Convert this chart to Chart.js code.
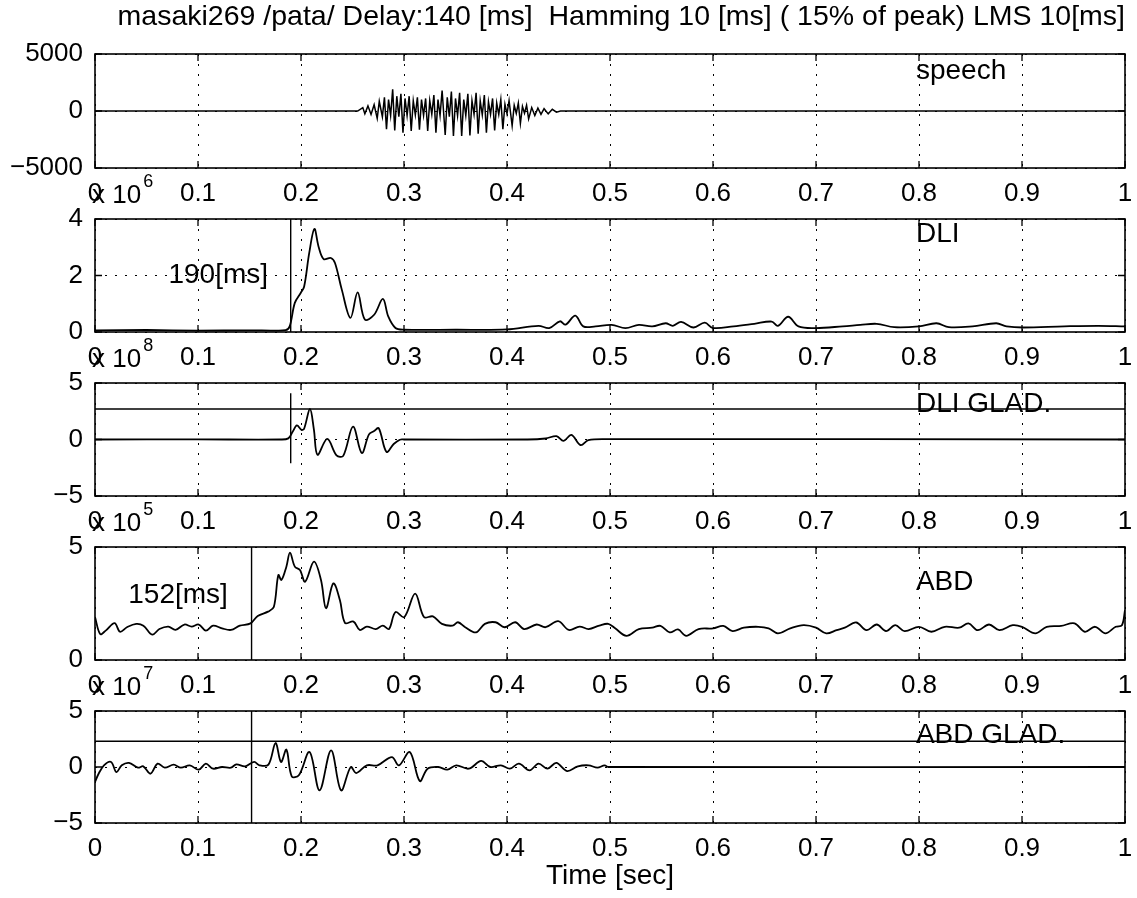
<!DOCTYPE html>
<html>
<head>
<meta charset="utf-8">
<title>masaki269 /pata/</title>
<script src="https://cdn.jsdelivr.net/npm/chart.js@4/dist/chart.umd.min.js"></script>
<style>
  html, body { margin: 0; padding: 0; background: #fff; }
  #page { position: relative; width: 1137px; height: 898px; }
  #page canvas { position: absolute; left: 0; top: 0; }
</style>
</head>
<body>
<div id="page">
  <canvas id="speechChart" width="1137" height="898"></canvas>
  <canvas id="dliChart" width="1137" height="898"></canvas>
  <canvas id="dliGladChart" width="1137" height="898"></canvas>
  <canvas id="abdChart" width="1137" height="898"></canvas>
  <canvas id="abdGladChart" width="1137" height="898"></canvas>
</div>
<script>
const titleText = "masaki269 /pata/ Delay:140 [ms]  Hamming 10 [ms] ( 15% of peak) LMS 10[ms]";

// speech waveform [time sec, amplitude]
const speechPoints = [
  [0, 0], [0.05, 10], [0.1, -10], [0.15, 10], [0.2, -10], [0.255, 0],
  [0.26, 300], [0.262, -250], [0.265, 450], [0.268, -300], [0.271, 550], [0.274, -650], [0.276, 850], [0.279, -500],
  [0.281, 1200], [0.283, -1600], [0.285, 1000], [0.287, -400],
  [0.289, 1900], [0.291, -1700], [0.293, 1300], [0.295, -500],
  [0.297, 1500], [0.299, -1900], [0.301, 1100], [0.303, -400],
  [0.305, 1300], [0.307, -1750], [0.309, 900], [0.311, -350],
  [0.313, 1200], [0.315, -1650], [0.317, 1000], [0.319, -400],
  [0.321, 1100], [0.323, -1750], [0.325, 900], [0.327, -300],
  [0.329, 1400], [0.331, -1900], [0.333, 1000], [0.335, -400],
  [0.337, 1800], [0.340, -2100], [0.342, 1200], [0.344, -500],
  [0.346, 1700], [0.348, -2200], [0.350, 1100], [0.352, -400],
  [0.354, 1600], [0.356, -2200], [0.358, 1000], [0.360, -400],
  [0.362, 1500], [0.364, -2150], [0.366, 900], [0.368, -300],
  [0.370, 1600], [0.372, -2000], [0.374, 900], [0.376, -350],
  [0.378, 1400], [0.380, -1900], [0.382, 800], [0.384, -300],
  [0.386, 1100], [0.388, -1700], [0.390, 700], [0.392, -300],
  [0.394, 1000], [0.396, -1600], [0.398, 600], [0.400, -250],
  [0.402, 900], [0.405, -1300], [0.407, 500], [0.409, -200],
  [0.411, 700], [0.413, -1100], [0.415, 400], [0.417, -200],
  [0.419, 500], [0.421, -700], [0.424, 300], [0.427, -400],
  [0.430, 250], [0.433, -300], [0.436, 200], [0.440, -250],
  [0.444, 150], [0.448, -100], [0.452, 0], [1.0, 0]
];

// DLI (x 10^6)
const dliPoints = [
  [0, 0.06], [0.05, 0.07], [0.1, 0.05], [0.15, 0.06], [0.185, 0.07], [0.189, 0.2],
  [0.194, 1.03], [0.1997, 1.38], [0.203, 1.6], [0.208, 2.8], [0.213, 3.65], [0.217, 3.03],
  [0.222, 2.58], [0.229, 2.62], [0.233, 2.44], [0.2396, 1.5], [0.248, 0.5], [0.255, 1.4],
  [0.262, 0.44], [0.271, 0.61], [0.2795, 1.17], [0.2847, 0.55], [0.2917, 0.14], [0.2997, 0.08],
  [0.35, 0.08], [0.40, 0.09], [0.4306, 0.22], [0.441, 0.14], [0.4514, 0.38], [0.4569, 0.26],
  [0.4663, 0.58], [0.474, 0.2], [0.486, 0.2], [0.5016, 0.25], [0.515, 0.14], [0.528, 0.25],
  [0.541, 0.2], [0.554, 0.31], [0.561, 0.22], [0.569, 0.36], [0.581, 0.16], [0.592, 0.33],
  [0.6, 0.14], [0.62, 0.2], [0.64, 0.29], [0.657, 0.37], [0.663, 0.22], [0.673, 0.54],
  [0.683, 0.2], [0.7, 0.14], [0.726, 0.2], [0.743, 0.25], [0.759, 0.29], [0.776, 0.17],
  [0.8, 0.2], [0.817, 0.31], [0.829, 0.17], [0.852, 0.2], [0.875, 0.31], [0.885, 0.2],
  [0.901, 0.16], [0.941, 0.2], [0.974, 0.22], [1.0, 0.2]
];

// DLI GLAD. (x 10^8)
const dliGladPoints = [
  [0, 0], [0.1, 0.01], [0.18, 0], [0.1877, 0.1], [0.192, 0.7], [0.196, 1.25], [0.2005, 0.85],
  [0.203, 0.95], [0.2087, 2.7], [0.2125, 0.9], [0.216, -1.35], [0.2255, 0.05], [0.2345, -1.4],
  [0.241, -1.45], [0.2505, 1.13], [0.259, -1.2], [0.266, 0.45], [0.271, 0.75], [0.2755, 1.0],
  [0.283, -1.1], [0.29, -0.4], [0.296, -0.02], [0.3, 0], [0.42, 0], [0.4375, 0.09],
  [0.448, 0.3], [0.4549, -0.12], [0.4625, 0.41], [0.4715, -0.5], [0.479, -0.06], [0.498, 0.03],
  [1.0, 0]
];

// ABD (x 10^5)
const abdPoints = [
  [0, 1.9], [0.005, 1.15], [0.0104, 1.3], [0.019, 1.63], [0.0243, 1.25], [0.031, 1.45],
  [0.04, 1.6], [0.047, 1.52], [0.0556, 1.12], [0.0625, 1.37], [0.0712, 1.48], [0.0781, 1.33],
  [0.0868, 1.57], [0.0938, 1.48], [0.1007, 1.57], [0.1076, 1.3], [0.1146, 1.52], [0.1233, 1.4],
  [0.132, 1.33], [0.1406, 1.52], [0.151, 1.62], [0.158, 1.95], [0.168, 2.14], [0.1736, 2.34],
  [0.178, 3.76], [0.181, 3.54], [0.1858, 4.13], [0.1893, 4.75], [0.194, 4.13], [0.199, 3.98],
  [0.204, 3.46], [0.2126, 4.35], [0.2194, 3.54], [0.2243, 2.29], [0.2314, 3.39], [0.2378, 2.64],
  [0.2427, 1.64], [0.251, 1.7], [0.257, 1.33], [0.2639, 1.48], [0.2726, 1.37], [0.2795, 1.52],
  [0.2854, 1.37], [0.2917, 2.12], [0.3003, 1.9], [0.3108, 2.94], [0.3194, 1.9], [0.3281, 1.93],
  [0.3368, 1.6], [0.3472, 1.52], [0.3524, 1.67], [0.3594, 1.45], [0.3698, 1.22], [0.3785, 1.6],
  [0.3889, 1.67], [0.3976, 1.45], [0.408, 1.67], [0.4167, 1.37], [0.4288, 1.57], [0.4375, 1.45],
  [0.4497, 1.72], [0.46, 1.33], [0.4705, 1.48], [0.4792, 1.37], [0.4896, 1.52], [0.4983, 1.6],
  [0.505, 1.4], [0.516, 1.07], [0.528, 1.37], [0.541, 1.43], [0.549, 1.51], [0.558, 1.22],
  [0.566, 1.35], [0.574, 1.07], [0.586, 1.37], [0.6, 1.4], [0.61, 1.51], [0.619, 1.28],
  [0.63, 1.43], [0.644, 1.47], [0.654, 1.4], [0.663, 1.18], [0.675, 1.4], [0.688, 1.54],
  [0.7, 1.43], [0.71, 1.18], [0.72, 1.32], [0.728, 1.43], [0.739, 1.66], [0.749, 1.32],
  [0.759, 1.57], [0.768, 1.28], [0.777, 1.54], [0.786, 1.28], [0.8, 1.47], [0.812, 1.25],
  [0.825, 1.47], [0.839, 1.43], [0.848, 1.62], [0.857, 1.32], [0.868, 1.57], [0.878, 1.32],
  [0.891, 1.54], [0.9, 1.47], [0.913, 1.18], [0.924, 1.47], [0.938, 1.51], [0.951, 1.62],
  [0.961, 1.25], [0.971, 1.47], [0.981, 1.18], [0.991, 1.47], [0.997, 1.54], [1.0, 2.2]
];

// ABD GLAD. (x 10^7)
const abdGladPoints = [
  [0, -1.34], [0.0035, -0.6], [0.0087, 0.15], [0.0156, 0.45], [0.0208, -0.45], [0.026, 0.15],
  [0.033, 0.36], [0.0417, -0.06], [0.0469, 0.06], [0.0538, -0.6], [0.0608, 0.3], [0.0677, -0.06],
  [0.0764, 0.21], [0.0833, -0.06], [0.092, 0.15], [0.1007, -0.24], [0.1076, 0.3], [0.1146, -0.15],
  [0.1233, 0], [0.132, -0.06], [0.1372, 0.24], [0.1458, 0.06], [0.1545, 0.45], [0.1597, 0.15],
  [0.1684, 0.21], [0.1753, 2.14], [0.1806, 0.45], [0.1858, 1.55], [0.191, -0.83], [0.1979, -0.74],
  [0.2083, 1.34], [0.218, -2.08], [0.2292, 1.49], [0.2389, -2.08], [0.2483, 0], [0.2535, -0.54],
  [0.2639, 0.15], [0.2743, 0.15], [0.2882, 0.89], [0.2951, 0.15], [0.3056, 1.34], [0.3153, -1.25],
  [0.3229, -0.15], [0.3333, 0], [0.342, -0.24], [0.3507, 0.15], [0.3628, -0.15], [0.375, 0.54],
  [0.3837, 0], [0.3941, 0.15], [0.4028, -0.15], [0.4115, 0.3], [0.4219, -0.3], [0.4306, 0.3],
  [0.4392, -0.15], [0.4479, 0.36], [0.4583, -0.36], [0.4688, 0.06], [0.4792, 0.15], [0.4878, -0.06],
  [0.4948, 0.15], [0.4983, 0], [1.0, 0]
];

// onset markers and thresholds
const dliOnset = 0.19;
const abdOnset = 0.152;
const dliGladMarkerSpan = [-2.1, 4.1];
const dliGladThreshold = 2.7;
const abdGladThreshold = 2.3;

// layout of the five axes (pixels)
const plotLeft = 95, plotRight = 1125;
const panelTops = [54, 219, 383, 547, 711];
const panelBottoms = [168, 332, 496, 660, 823];
const fontFamily = "'Liberation Sans', Arial, Helvetica, sans-serif";
const tickFontSize = 26;
const textFontSize = 28;

Chart.defaults.font.family = fontFamily;
Chart.defaults.font.size = tickFontSize;
Chart.defaults.color = '#000';

// frame, inward ticks, text labels, exponent
const decorPlugin = {
  id: 'panelDecor',
  afterDatasetsDraw(chart, args, opts) {
    const { ctx, chartArea: a, scales } = chart;
    const xs = scales.x, ys = scales.y;
    ctx.save();
    ctx.strokeStyle = '#000';
    ctx.lineWidth = 1.6;
    ctx.strokeRect(a.left, a.top, a.right - a.left, a.bottom - a.top);
    ctx.lineWidth = 1.3;
    ctx.beginPath();
    xs.ticks.forEach(t => {
      const px = xs.getPixelForValue(t.value);
      ctx.moveTo(px, a.top); ctx.lineTo(px, a.top + 7);
      ctx.moveTo(px, a.bottom); ctx.lineTo(px, a.bottom - 7);
    });
    ys.ticks.forEach(t => {
      const py = ys.getPixelForValue(t.value);
      ctx.moveTo(a.left, py); ctx.lineTo(a.left + 7, py);
      ctx.moveTo(a.right, py); ctx.lineTo(a.right - 7, py);
    });
    ctx.stroke();

    ctx.fillStyle = '#000';
    ctx.font = textFontSize + 'px ' + fontFamily;
    ctx.textBaseline = 'middle';
    if (opts.label) {
      ctx.textAlign = 'left';
      ctx.fillText(opts.label.text, xs.getPixelForValue(opts.label.x), ys.getPixelForValue(opts.label.y));
    }
    if (opts.note) {
      ctx.textAlign = 'right';
      ctx.fillText(opts.note.text, xs.getPixelForValue(opts.note.x), ys.getPixelForValue(opts.note.y));
    }
    if (opts.exponent) {
      ctx.textAlign = 'left';
      ctx.font = tickFontSize + 'px ' + fontFamily;
      const base = 'x 10';
      ctx.fillText(base, a.left - 3, a.top - 23);
      const w = ctx.measureText(base).width;
      ctx.font = '18px ' + fontFamily;
      ctx.fillText(opts.exponent, a.left - 1 + w, a.top - 37);
    }
    ctx.restore();
  }
};

function line(points, smooth, width) {
  return {
    data: points.map(([x, y]) => ({ x, y })),
    borderColor: '#000',
    borderWidth: width || 1.8,
    pointRadius: 0,
    tension: smooth ? 0.35 : 0,
    fill: false
  };
}

function makePanel(id, k, cfg) {
  const last = k === 4;
  const xAxisHeight = last ? 72 : 45;
  return new Chart(document.getElementById(id), {
    type: 'line',
    data: { datasets: cfg.datasets },
    options: {
      responsive: false,
      animation: false,
      events: [],
      layout: {
        padding: {
          left: 0,
          right: 1137 - plotRight,
          top: k === 0 ? 0 : panelTops[k],
          bottom: 898 - panelBottoms[k] - xAxisHeight
        }
      },
      plugins: {
        legend: { display: false },
        tooltip: { enabled: false },
        title: k === 0 ? {
          display: true,
          text: titleText,
          align: 'end',
          font: { size: 28.5, weight: 'normal' },
          padding: { top: 0, bottom: 19.8 }
        } : { display: false },
        panelDecor: cfg.decor
      },
      scales: {
        x: {
          type: 'linear',
          min: 0,
          max: 1,
          ticks: {
            stepSize: 0.1,
            autoSkip: false,
            maxRotation: 0,
            padding: 0,
            callback: v => String(Math.round(v * 10) / 10)
          },
          grid: { color: '#000', lineWidth: 1, drawTicks: true, tickLength: 10, tickColor: 'rgba(0,0,0,0)' },
          border: { display: false, dash: [2, 8] },
          title: last ? {
            display: true,
            text: 'Time [sec]',
            font: { size: textFontSize },
            padding: { top: 0, bottom: 2 }
          } : { display: false },
          afterFit: s => { s.height = xAxisHeight; }
        },
        y: {
          min: cfg.yMin,
          max: cfg.yMax,
          ticks: {
            stepSize: cfg.yStep,
            padding: 12,
            callback: v => (v < 0 ? '\u2212' + Math.abs(v) : String(v))
          },
          grid: { color: '#000', lineWidth: 1, drawTicks: false },
          border: { display: false, dash: [2, 8] },
          afterFit: s => { s.width = plotLeft; }
        }
      }
    },
    plugins: [decorPlugin]
  });
}

makePanel('speechChart', 0, {
  yMin: -5000, yMax: 5000, yStep: 5000,
  datasets: [line(speechPoints, false, 1.5)],
  decor: { label: { text: 'speech', x: 0.797, y: 3500 } }
});

makePanel('dliChart', 1, {
  yMin: 0, yMax: 4, yStep: 2,
  datasets: [
    line(dliPoints, true),
    line([[dliOnset, 0], [dliOnset, 4]], false, 1.4)
  ],
  decor: {
    label: { text: 'DLI', x: 0.797, y: 3.45 },
    note: { text: '190[ms]', x: 0.168, y: 2 },
    exponent: '6'
  }
});

makePanel('dliGladChart', 2, {
  yMin: -5, yMax: 5, yStep: 5,
  datasets: [
    line(dliGladPoints, true),
    line([[0, dliGladThreshold], [1, dliGladThreshold]], false, 1.4),
    line([[dliOnset, dliGladMarkerSpan[0]], [dliOnset, dliGladMarkerSpan[1]]], false, 1.4)
  ],
  decor: { label: { text: 'DLI GLAD.', x: 0.797, y: 3.1 }, exponent: '8' }
});

makePanel('abdChart', 3, {
  yMin: 0, yMax: 5, yStep: 5,
  datasets: [
    line(abdPoints, true),
    line([[abdOnset, 0], [abdOnset, 5]], false, 1.4)
  ],
  decor: {
    label: { text: 'ABD', x: 0.797, y: 3.46 },
    note: { text: '152[ms]', x: 0.129, y: 2.88 },
    exponent: '5'
  }
});

makePanel('abdGladChart', 4, {
  yMin: -5, yMax: 5, yStep: 5,
  datasets: [
    line(abdGladPoints, true),
    line([[0, abdGladThreshold], [1, abdGladThreshold]], false, 1.4),
    line([[abdOnset, -5], [abdOnset, 5]], false, 1.4)
  ],
  decor: { label: { text: 'ABD GLAD.', x: 0.797, y: 2.8 }, exponent: '7' }
});
</script>
</body>
</html>
